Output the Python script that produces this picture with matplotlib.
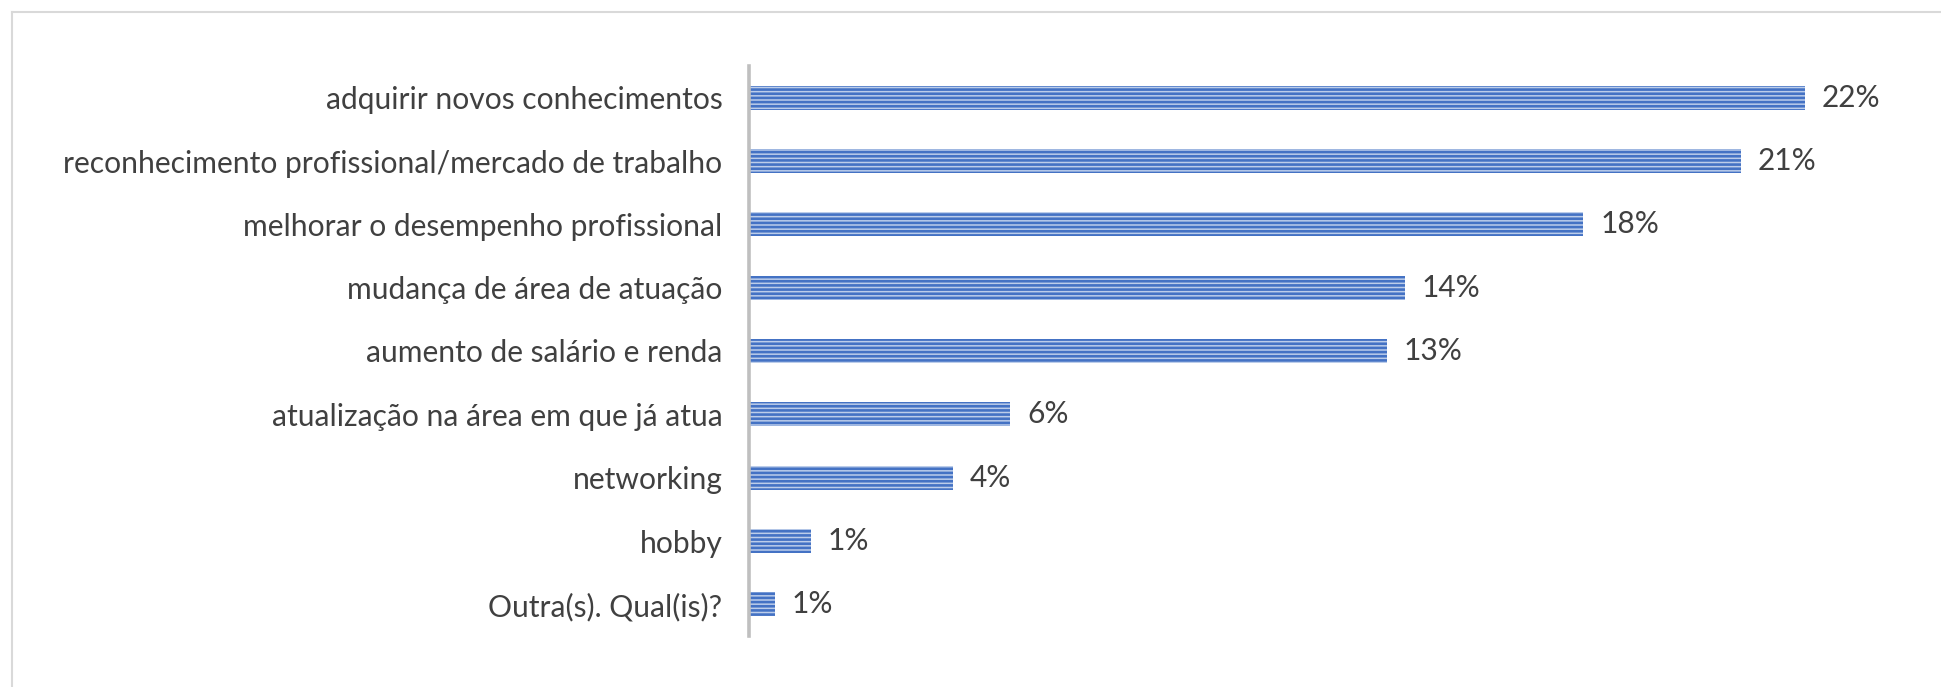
import matplotlib
matplotlib.use("Agg")
import matplotlib.pyplot as plt
from matplotlib.lines import Line2D

categories = [
    "adquirir novos conhecimentos",
    "reconhecimento profissional/mercado de trabalho",
    "melhorar o desempenho profissional",
    "mudança de área de atuação",
    "aumento de salário e renda",
    "atualização na área em que já atua",
    "networking",
    "hobby",
    "Outra(s). Qual(is)?",
]
values = [22.0, 20.67, 17.38, 13.67, 13.29, 5.44, 4.25, 1.29, 0.54]
labels = ["22%", "21%", "18%", "14%", "13%", "6%", "4%", "1%", "1%"]

plt.rcParams["font.family"] = ["Lato", "DejaVu Sans"]
plt.rcParams["hatch.linewidth"] = 1.9

W, H = 1941, 687
fig = plt.figure(figsize=(W / 100, H / 100), dpi=100)
ax = fig.add_axes([749 / W, 1 - 636 / H, (W - 749) / W, (636 - 66) / H])

ypos = list(range(len(categories)))
ax.barh(ypos, values, height=0.38, facecolor="#BCCDEA", edgecolor="#4472C4",
        linewidth=0, hatch="----")

for y, v, lab in zip(ypos, values, labels):
    ax.text(v + 0.35, y, lab, va="center", ha="left", fontsize=21.5, color="#404040")

ax.set_xlim(0, (W - 749) / 48)
ax.set_ylim(8.5, -0.5)
ax.set_yticks(ypos)
ax.set_yticklabels(categories, fontsize=21.6, color="#404040")
ax.tick_params(axis="y", length=0, pad=19)
ax.set_xticks([])
for s in ["top", "right", "bottom"]:
    ax.spines[s].set_visible(False)
ax.spines["left"].set_color("#BFBFBF")
ax.spines["left"].set_linewidth(2.6)

# chart area border (only left/top visible)
fig.add_artist(Line2D([12 / W, 12 / W], [0, 1 - 12 / H], transform=fig.transFigure,
                      color="#D9D9D9", lw=1.5))
fig.add_artist(Line2D([12 / W, 1], [1 - 12 / H, 1 - 12 / H], transform=fig.transFigure,
                      color="#D9D9D9", lw=1.5))

fig.savefig("out.png", dpi=100, facecolor="white")
